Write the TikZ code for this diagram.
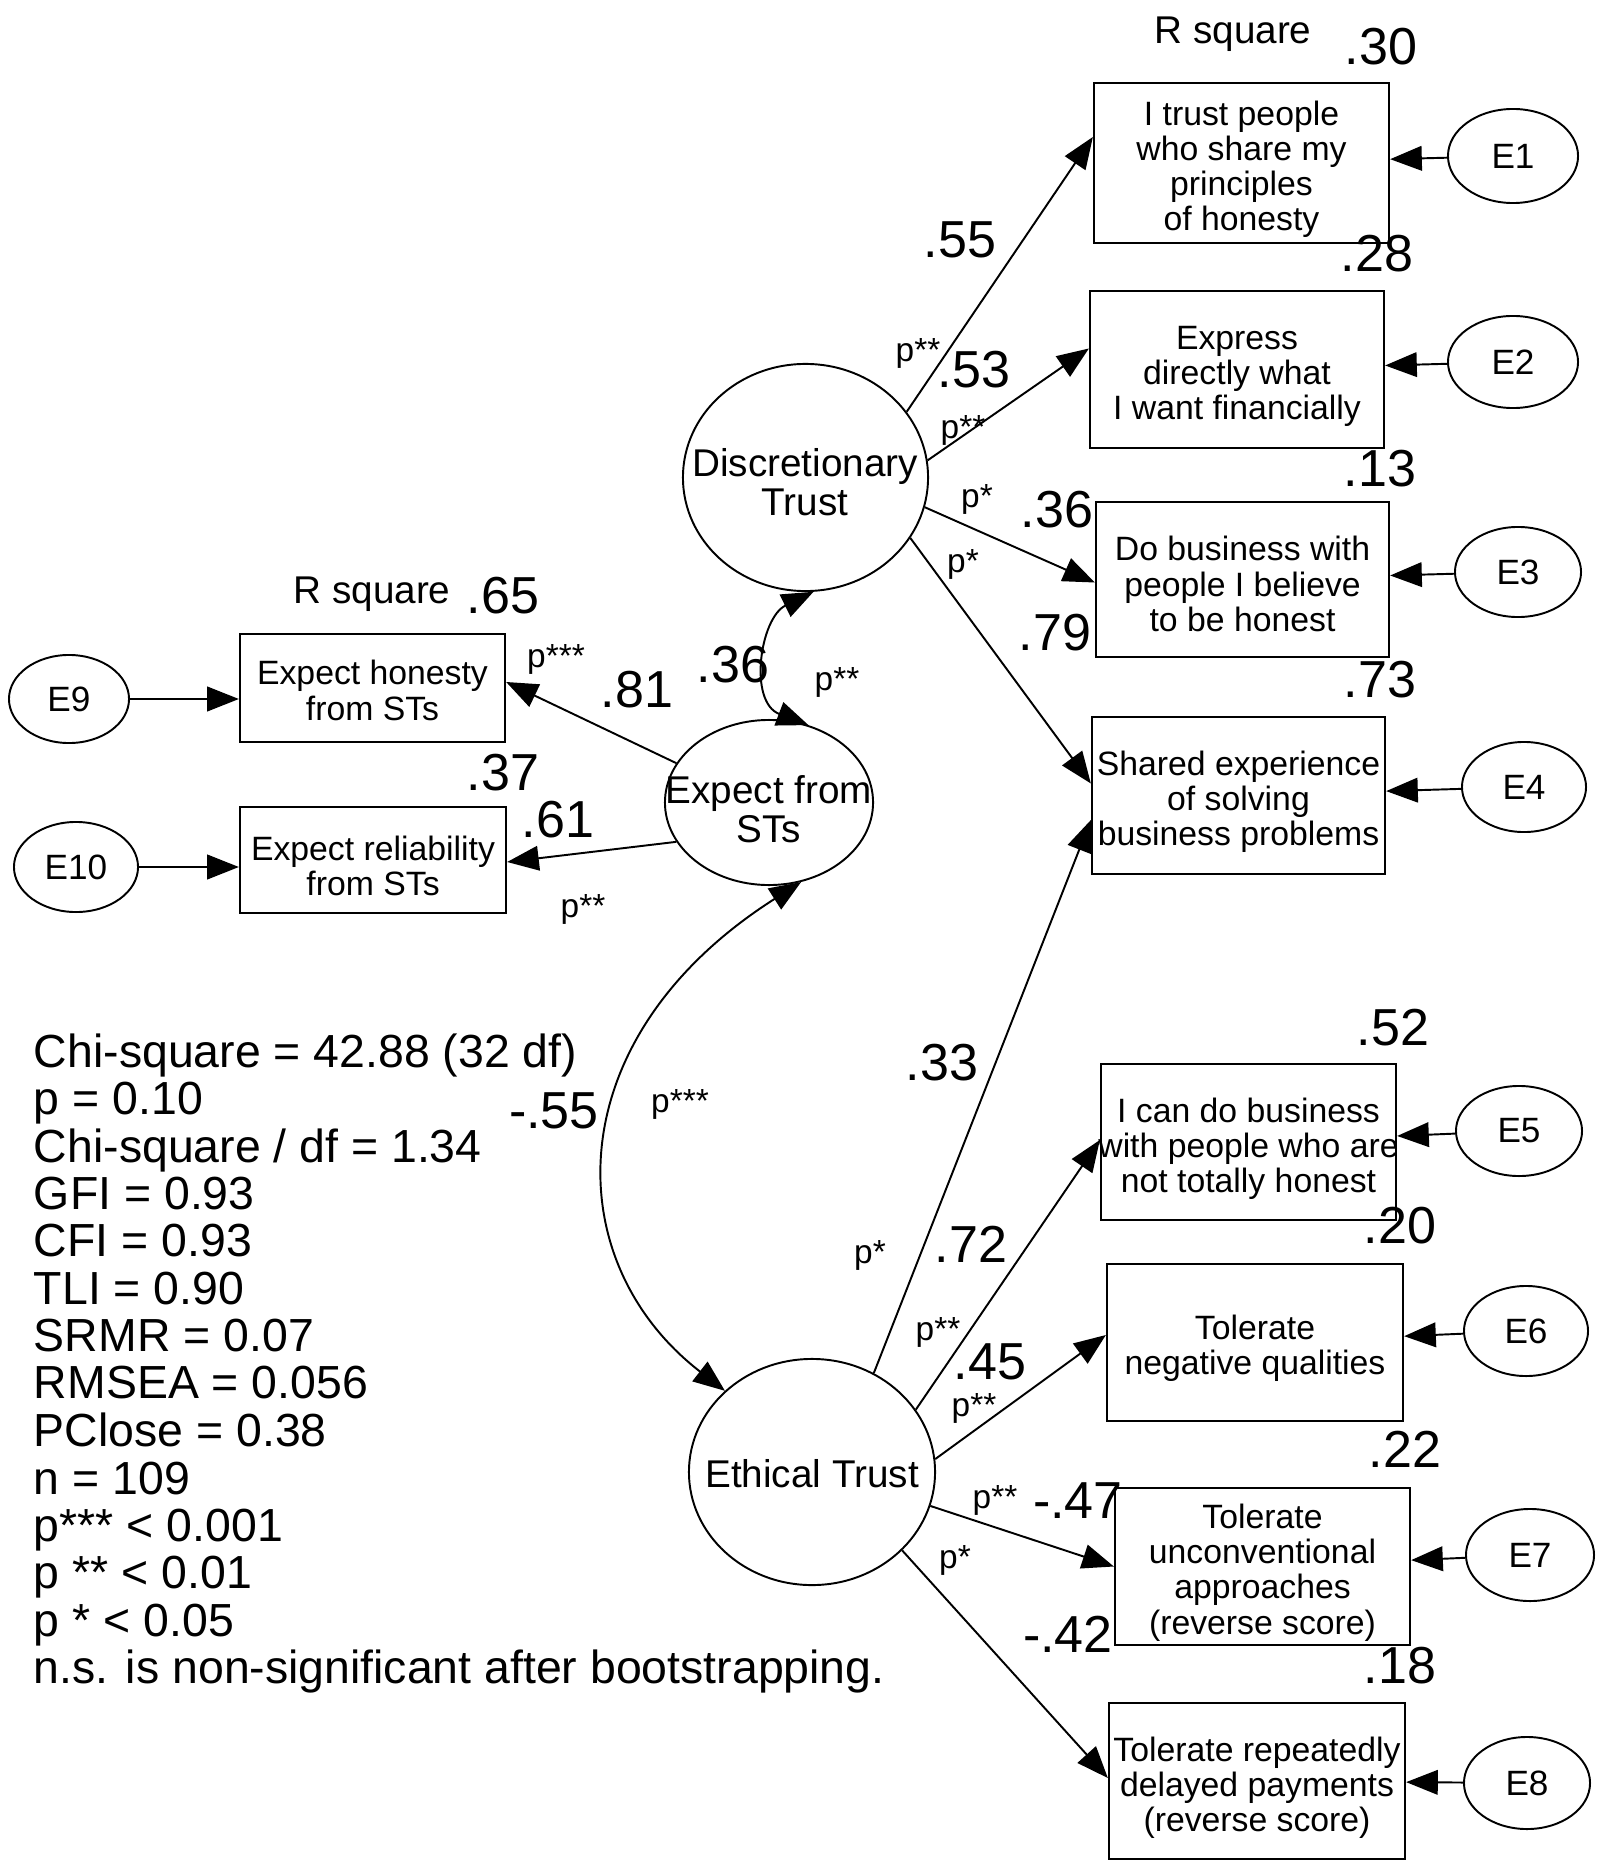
\documentclass[tikz,border=0pt]{standalone}
\usepackage{fontspec}
\setmainfont{Liberation Sans}
\usetikzlibrary{arrows.meta,shapes.geometric}
\begin{document}
\begin{tikzpicture}[x=0.01cm, y=-0.01cm,
  line width=0.55pt,
  box/.style={draw, line width=0.6pt, inner sep=0pt},
  boxtext/.style={inner sep=0pt, align=center, font=\fontsize{9.6}{10}\selectfont},
  latshape/.style={draw, ellipse, inner sep=0pt, line width=0.55pt},
  lattext/.style={inner sep=0pt, align=center, font=\fontsize{11}{11.1}\selectfont},
  err/.style={draw, ellipse, inner sep=0pt, line width=0.55pt, font=\fontsize{10}{12}\selectfont},
  num/.style={anchor=base, inner sep=0pt, font=\fontsize{14.8}{16}\selectfont},
  sig/.style={anchor=base, inner sep=0pt, font=\fontsize{9.5}{11}\selectfont},
  rsq/.style={anchor=base, inner sep=0pt, font=\fontsize{11}{13}\selectfont},
  arr/.style={-{Triangle[length=9pt,width=7pt]}},
  darr/.style={{Triangle[length=9pt,width=7pt]}-{Triangle[length=9pt,width=7pt]}},
]
\useasboundingbox (0,0) rectangle (1598,1861);

% latent variables
\node[latshape, minimum width=2.45cm, minimum height=2.27cm] (disc) at (805.5,477.5) {};
\node[lattext] (disct) at (805,482) {Discretionary\\Trust};
\node[latshape, minimum width=2.08cm, minimum height=1.65cm] (expf) at (769,802.5) {};
\node[lattext] (expft) at (769,809) {Expect from\\STs};
\node[latshape, minimum width=2.46cm, minimum height=2.26cm] (eth) at (812,1472) {};
\node[lattext] (etht) at (812,1473.5) {Ethical Trust};

% observed variables (frames)
\node[box, minimum width=2.95cm, minimum height=1.60cm] (b1) at (1241.5,163) {};
\node[box, minimum width=2.94cm, minimum height=1.57cm] (b2) at (1237,369.5) {};
\node[box, minimum width=2.93cm, minimum height=1.55cm] (b3) at (1242.5,579.5) {};
\node[box, minimum width=2.93cm, minimum height=1.57cm] (b4) at (1238.5,795.5) {};
\node[box, minimum width=2.95cm, minimum height=1.56cm] (b5) at (1248.5,1142) {};
\node[box, minimum width=2.96cm, minimum height=1.57cm] (b6) at (1255,1342.5) {};
\node[box, minimum width=2.95cm, minimum height=1.57cm] (b7) at (1262.5,1566.5) {};
\node[box, minimum width=2.96cm, minimum height=1.56cm] (b8) at (1257,1781) {};
\node[box, minimum width=2.65cm, minimum height=1.08cm] (bh) at (372.5,688) {};
\node[box, minimum width=2.66cm, minimum height=1.06cm] (br) at (373,860) {};

% observed variables (texts)
\node[boxtext, yshift=-0.065cm] (b1t) at (b1) {I trust people\\who share my\\principles\\of honesty};
\node[boxtext, yshift=-0.07cm] (b2t) at (b2) {Express\\directly what\\I want financially};
\node[boxtext, yshift=-0.045cm] (b3t) at (b3) {Do business with\\people I believe\\to be honest};
\node[boxtext, yshift=-0.065cm] (b4t) at (b4) {Shared experience\\of solving\\business problems};
\node[boxtext, yshift=-0.065cm] (b5t) at (b5) {I can do business\\with people who are\\not totally honest};
\node[boxtext, yshift=-0.06cm] (b6t) at (b6) {Tolerate\\negative qualities};
\node[boxtext, yshift=-0.06cm] (b7t) at (b7) {Tolerate\\unconventional\\approaches\\(reverse score)};
\node[boxtext, yshift=-0.065cm] (b8t) at (b8) {Tolerate repeatedly\\delayed payments\\(reverse score)};
\node[boxtext, yshift=-0.025cm] (bht) at (bh) {Expect honesty\\from STs};
\node[boxtext, yshift=-0.06cm] (brt) at (br) {Expect reliability\\from STs};

% error terms
\node[err, minimum width=1.30cm, minimum height=0.94cm] (e1) at (1513,156) {E1};
\node[err, minimum width=1.30cm, minimum height=0.92cm] (e2) at (1513,362) {E2};
\node[err, minimum width=1.26cm, minimum height=0.90cm] (e3) at (1518,572) {E3};
\node[err, minimum width=1.24cm, minimum height=0.90cm] (e4) at (1524,787) {E4};
\node[err, minimum width=1.26cm, minimum height=0.90cm] (e5) at (1519,1131) {E5};
\node[err, minimum width=1.24cm, minimum height=0.90cm] (e6) at (1526,1331) {E6};
\node[err, minimum width=1.28cm, minimum height=0.92cm] (e7) at (1530,1555) {E7};
\node[err, minimum width=1.26cm, minimum height=0.92cm] (e8) at (1527,1783) {E8};
\node[err, minimum width=1.20cm, minimum height=0.88cm] (e9) at (69,699) {E9};
\node[err, minimum width=1.24cm, minimum height=0.90cm] (e10) at (76,867) {E10};

% paths
\draw[arr] (disc.33.7) -- ([yshift=0.26cm]b1.west);
\draw[arr] (disc.8) -- ([yshift=0.21cm]b2.west);
\draw[arr] (disc.-14) -- ([yshift=-0.03cm]b3.west);
\draw[arr] (disc.-30) -- ([yshift=0.12cm]b4.west);
\draw[arr] (eth.58.6) -- ([yshift=-0.245cm]b4.west);
\draw[arr] (eth.31) -- ([yshift=0.02cm]b5.west);
\draw[arr] (eth.6.5) -- ([yshift=0.075cm]b6.west);
\draw[arr] (eth.-16) -- (b7.west);
\draw[arr] (eth.-41) -- ([yshift=0.03cm]b8.west);
\draw[arr] (expf.157) -- ([yshift=0.06cm]bh.east);
\draw[arr] (expf.203) -- ([yshift=-0.02cm]br.east);
\draw[arr] (e9) -- (e9 -| bh.west);
\draw[arr] (e10) -- (e10 -| br.west);
\draw[arr] (e1) -- (b1);
\draw[arr] (e2) -- (b2);
\draw[arr] (e3) -- (b3);
\draw[arr] (e4) -- (b4);
\draw[arr] (e5) -- (b5);
\draw[arr] (e6) -- (b6);
\draw[arr] (e7) -- (b7);
\draw[arr] (e8) -- (b8);

% correlations
\draw[darr] (disc.-86) .. controls (760,618) and (748,702) .. (expf.63);
\draw[darr] (expf.-68.7) .. controls (556,1038) and (557,1261) .. (eth.137.4);

% R square labels
\node[rsq] (rs1) at (1233,44) {R square};
\node[rsq] (rs2) at (372,603) {R square};

% R square values
\node[num] (v30) at (1381,65) {.30};
\node[num] (v28) at (1377,272) {.28};
\node[num] (v13) at (1380,486) {.13};
\node[num] (v73) at (1380,697) {.73};
\node[num] (v52) at (1393,1045) {.52};
\node[num] (v20) at (1400,1243) {.20};
\node[num] (v22) at (1405,1467) {.22};
\node[num] (v18) at (1400,1683) {.18};
\node[num] (v65) at (503,613) {.65};
\node[num] (v37) at (503,790) {.37};

% coefficients
\node[num] (c55) at (960,258) {.55};
\node[num] (c53) at (974,388) {.53};
\node[num] (c36r) at (1057,527) {.36};
\node[num] (c79) at (1055,650) {.79};
\node[num] (c36l) at (733,682) {.36};
\node[num] (c81) at (637,707) {.81};
\node[num] (c61) at (558,837) {.61};
\node[num] (c55n) at (554,1128) {-.55};
\node[num] (c33) at (942,1080) {.33};
\node[num] (c72) at (971,1262) {.72};
\node[num] (c45) at (990,1379) {.45};
\node[num] (c47) at (1078,1518) {-.47};
\node[num] (c42) at (1068,1652) {-.42};

% significance labels
\node[sig] (s1) at (918,362) {p**};
\node[sig] (s2) at (963,439) {p**};
\node[sig] (s3) at (977,508) {p*};
\node[sig] (s4) at (963,572) {p*};
\node[sig] (s5) at (837,690) {p**};
\node[sig] (s6) at (556,667) {p***};
\node[sig] (s7) at (583,917) {p**};
\node[sig] (s8) at (680,1112) {p***};
\node[sig] (s9) at (870,1263) {p*};
\node[sig] (s10) at (938,1340) {p**};
\node[sig] (s11) at (974,1416) {p**};
\node[sig] (s12) at (995,1508) {p**};
\node[sig] (s13) at (955,1568) {p*};

% fit statistics
\node[anchor=base west, inner sep=0pt, font=\fontsize{13.2}{13.46}\selectfont] (stats) at (33,1067) {\begin{tabular}[t]{@{}l@{}}
Chi-square = 42.88 (32 df)\\
p = 0.10\\
Chi-square / df = 1.34\\
GFI = 0.93\\
CFI = 0.93\\
TLI = 0.90\\
SRMR = 0.07\\
RMSEA = 0.056\\
PClose = 0.38\\
n = 109\\
p*** < 0.001\\
p ** < 0.01\\
p * < 0.05\\
n.s. is non-significant after bootstrapping.
\end{tabular}};
\end{tikzpicture}
\end{document}
